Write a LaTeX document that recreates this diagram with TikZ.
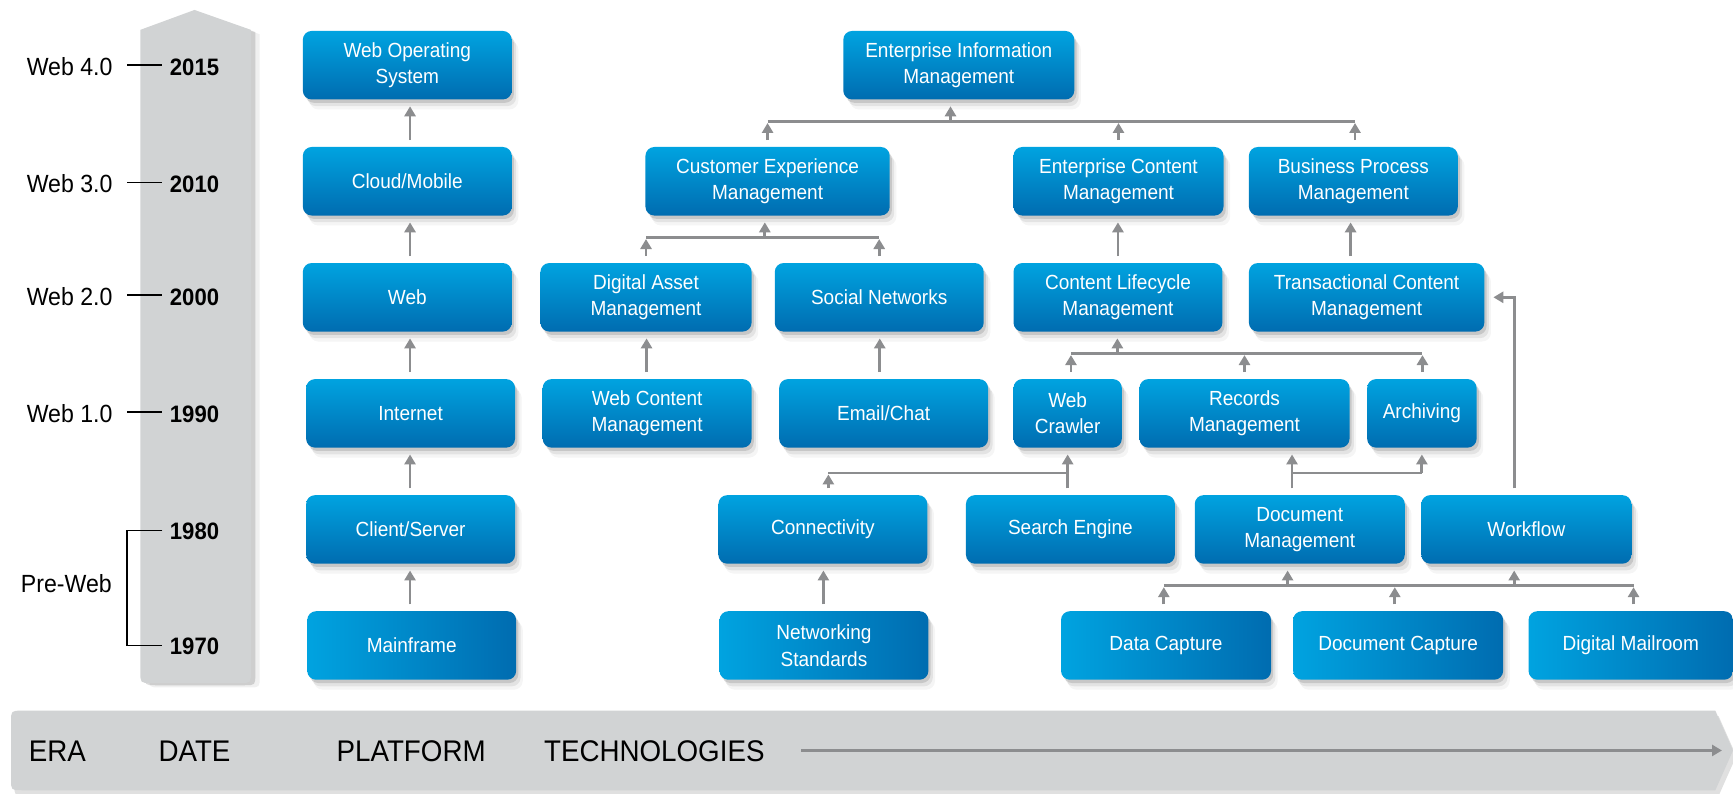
\documentclass[tikz,border=0pt]{standalone}
\usepackage{fontspec}
\setmainfont{Liberation Sans}[FakeStretch=0.93]
\usetikzlibrary{arrows.meta,shadows,calc}
\definecolor{btop}{RGB}{0,163,224}
\definecolor{bbot}{RGB}{0,108,176}
\definecolor{panel}{RGB}{209,211,212}
\definecolor{connc}{RGB}{140,141,143}
\tikzset{
 softsh/.style={
  drop shadow={shadow xshift=2pt,shadow yshift=-3pt,opacity=.12,fill=black},
  drop shadow={shadow xshift=4pt,shadow yshift=-6pt,opacity=.07,fill=black},
  drop shadow={shadow xshift=6pt,shadow yshift=-9pt,opacity=.04,fill=black}},
 boxbase/.style={softsh, rounded corners=8pt, minimum height=62pt, inner sep=2pt,
  align=center, text=white, font=\fontsize{18.5}{24}\selectfont, draw=none},
 tbox/.style={boxbase, top color=btop, bottom color=bbot},
 hbox/.style={boxbase, left color=btop, right color=bbot},
 link/.style={draw=connc, line width=2.6pt},
 arr/.style={link, -{Triangle[width=10pt,length=9pt]}},
 eralbl/.style={font=\fontsize{22.5}{26}\selectfont},
 yrlbl/.style={font=\fontsize{21.5}{24}\selectfont\bfseries},
 tickln/.style={line width=1.4pt, black},
 footlbl/.style={font=\fontsize{27}{30}\selectfont},
}
\newcommand\childup[3]{\draw[arr] ($(#1.north)+(#3,-6)$) -- ($(#1.north |- #2)+(#3,1.3)$);}
\newcommand\parentup[3]{\draw[arr] ($(#1.south |- #2)+(#3,0)$) -- ($(#1.south)+(#3,6)$);}
\newcommand\directup[3]{\draw[arr] ($(#1.north)+(#3,-6)$) -- ($(#2.south -| #1.north)+(#3,6)$);}
\begin{document}
\begin{tikzpicture}[x=1pt,y=-1pt]
\useasboundingbox (0,0) rectangle (1568,718);
\fill[white] (0,0) rectangle (1568,718);
% timeline column
\fill[panel,
  drop shadow={shadow xshift=4pt,shadow yshift=-2pt,opacity=.14,fill=black},
  drop shadow={shadow xshift=8pt,shadow yshift=-4pt,opacity=.06,fill=black}]
  (127,27) -- (176,9) -- (227,27) -- (227,608) .. controls (227,618) .. (217,618)
  -- (137,618) .. controls (127,618) .. (127,608) -- cycle;
% bottom bar
\fill[panel, drop shadow={shadow xshift=3pt,shadow yshift=-5pt,opacity=.12,fill=black}]
  (20,643) -- (1552,643) -- (1568,679) -- (1552,715) -- (20,715)
  .. controls (10,715) .. (10,705) -- (10,653) .. controls (10,643) .. (20,643) -- cycle;
\node[footlbl] (fera) at (52,680) {ERA};
\node[footlbl] (fdate) at (176,680) {DATE};
\node[footlbl] (fplat) at (372,680) {PLATFORM};
\node[footlbl] (ftech) at (592,680) {TECHNOLOGIES};
\coordinate (fa) at (725,679);
\coordinate (fb) at (1558,679);
\draw[arr] (fa) -- (fb);
% eras and dates
\node[eralbl] (w4) at (63,60) {Web 4.0};
\node[eralbl] (w3) at (63,166) {Web 3.0};
\node[eralbl] (w2) at (63,268) {Web 2.0};
\node[eralbl] (w1) at (63,374) {Web 1.0};
\node[eralbl] (pw) at (60,528) {Pre-Web};
\node[yrlbl] (y15) at (176,61) {2015};
\node[yrlbl] (y10) at (176,167) {2010};
\node[yrlbl] (y00) at (176,269) {2000};
\node[yrlbl] (y90) at (176,375) {1990};
\node[yrlbl] (y80) at (176,481) {1980};
\node[yrlbl] (y70) at (176,585) {1970};
\draw[tickln] (115,59) -- (147,59);
\draw[tickln] (115,165) -- (147,165);
\draw[tickln] (115,267) -- (147,267);
\draw[tickln] (115,373) -- (147,373);
\draw[tickln] (147,480) -- (115,480) -- (115,584) -- (147,584);
% platform
\node[tbox, minimum width=189pt] (wos) at (368.5,59) {Web Operating\\System};
\node[tbox, minimum width=189pt] (cloud) at (368.5,164) {Cloud/Mobile};
\node[tbox, minimum width=189pt] (web) at (368.5,269) {Web};
\node[tbox, minimum width=189pt] (internet) at (371.5,374) {Internet};
\node[tbox, minimum width=189pt] (client) at (371.5,479) {Client/Server};
\node[hbox, minimum width=189pt] (mainframe) at (372.5,584) {Mainframe};
% technologies
\node[tbox, minimum width=209pt] (eim) at (867.5,59) {Enterprise Information\\Management};
\node[tbox, minimum width=221pt] (cem) at (694.5,164) {Customer Experience\\Management};
\node[tbox, minimum width=190pt] (ecm) at (1012,164) {Enterprise Content\\Management};
\node[tbox, minimum width=189pt] (bpm) at (1224.5,164) {Business Process\\Management};
\node[tbox, minimum width=191pt] (dam) at (584.5,269) {Digital Asset\\Management};
\node[tbox, minimum width=189pt] (sn) at (795.5,269) {Social Networks};
\node[tbox, minimum width=189pt] (clm) at (1011.5,269) {Content Lifecycle\\Management};
\node[tbox, minimum width=213pt] (tcm) at (1236.5,269) {Transactional Content\\Management};
\node[tbox, minimum width=189pt] (wcm) at (585.5,374) {Web Content\\Management};
\node[tbox, minimum width=189pt] (email) at (799.5,374) {Email/Chat};
\node[tbox, minimum width=98pt] (crawler) at (966,374) {Web\\Crawler};
\node[tbox, minimum width=190pt] (records) at (1126,374) {Records\\Management};
\node[tbox, minimum width=99pt] (archiving) at (1286.5,374) {Archiving};
\node[tbox, minimum width=189pt] (conn) at (744.5,479) {Connectivity};
\node[tbox, minimum width=189pt] (search) at (968.5,479) {Search Engine};
\node[tbox, minimum width=190pt] (docmgmt) at (1176,479) {Document\\Management};
\node[tbox, minimum width=190pt] (workflow) at (1381,479) {Workflow};
\node[hbox, minimum width=189pt] (netstd) at (745.5,584) {Networking\\Standards};
\node[hbox, minimum width=190pt] (datacap) at (1055,584) {Data Capture};
\node[hbox, minimum width=190pt] (doccap) at (1265,584) {Document Capture};
\node[hbox, minimum width=185pt] (mailroom) at (1475.5,584) {Digital Mailroom};
% buses
\coordinate (busA) at (0,110);
\coordinate (busB) at (0,215);
\coordinate (busC) at (0,320);
\coordinate (busD) at (0,428);
\coordinate (busE) at (0,530);
% platform arrows
\directup{cloud}{wos}{2.5}
\directup{web}{cloud}{2.5}
\directup{internet}{web}{-0.5}
\directup{client}{internet}{-0.5}
\directup{mainframe}{client}{-1.5}
% EIM
\draw[link] (cem.north |- busA) -- ($(bpm.north |- busA)+(1.5,0)$);
\parentup{eim}{busA}{-7.5}
\childup{cem}{busA}{0}
\childup{ecm}{busA}{0}
\childup{bpm}{busA}{1.5}
% CEM
\draw[link] (dam.north |- busB) -- (sn.north |- busB);
\parentup{cem}{busB}{-2.5}
\childup{dam}{busB}{0}
\childup{sn}{busB}{0}
\directup{clm}{ecm}{0}
\directup{tcm}{bpm}{-14.5}
\directup{wcm}{dam}{-0.5}
\directup{email}{sn}{-3.5}
% CLM
\draw[link] ($(crawler.north |- busC)+(3,0)$) -- ($(archiving.north |- busC)+(0.5,0)$);
\parentup{clm}{busC}{-0.5}
\childup{crawler}{busC}{3}
\childup{records}{busC}{0}
\childup{archiving}{busC}{0.5}
% crawler
\directup{search}{crawler}{-2.5}
\draw[link] ($(conn.north |- busD)+(5,0)$) -- (crawler.south |- busD);
\childup{conn}{busD}{5}
% records / archiving
\directup{docmgmt}{records}{-7}
\draw[link] ($(docmgmt.north |- busD)+(-7,0)$) -- (archiving.south |- busD);
\parentup{archiving}{busD}{0}
% workflow to TCM
\draw[arr] ($(workflow.north)+(-11,-6)$) |- ($(tcm.east)+(8,0)$);
% capture bus
\draw[link] ($(datacap.north |- busE)+(-2,0)$) -- ($(mailroom.north |- busE)+(2.5,0)$);
\parentup{docmgmt}{busE}{-11}
\parentup{workflow}{busE}{-11}
\childup{datacap}{busE}{-2}
\childup{doccap}{busE}{-3}
\childup{mailroom}{busE}{2.5}
\directup{netstd}{conn}{-0.5}
\end{tikzpicture}
\end{document}
